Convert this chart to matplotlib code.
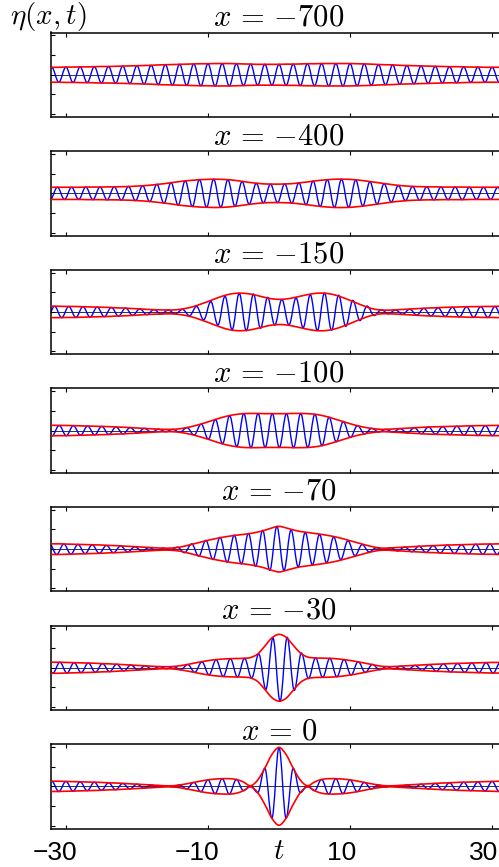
import numpy as np
import matplotlib
matplotlib.use('Agg')
import matplotlib.pyplot as plt
from matplotlib.path import Path
from matplotlib.patches import PathPatch
from matplotlib.transforms import ScaledTranslation

plt.rcParams['mathtext.fontset'] = 'cm'
plt.rcParams['font.family'] = ['Liberation Sans', 'DejaVu Sans']

# time grid (integer t) and the position of each panel
t = np.arange(-33, 34)
x_pos = [-700, -400, -150, -100, -70, -30, 0]

# envelope |eta| at t = -33 .. 33
env_700 = [0.37, 0.38, 0.38, 0.39, 0.39, 0.40, 0.40, 0.41, 0.42, 0.42,
           0.43, 0.44, 0.45, 0.46, 0.47, 0.48, 0.50, 0.51, 0.52, 0.53,
           0.54, 0.55, 0.56, 0.56, 0.57, 0.57, 0.57, 0.56, 0.55, 0.54,
           0.53, 0.53, 0.53, 0.53, 0.54, 0.54, 0.55, 0.56, 0.56, 0.57,
           0.57, 0.57, 0.57, 0.57, 0.56, 0.55, 0.54, 0.52, 0.51, 0.50,
           0.48, 0.47, 0.46, 0.45, 0.44, 0.43, 0.42, 0.41, 0.41, 0.40,
           0.39, 0.39, 0.38, 0.38, 0.38, 0.37, 0.37]
env_400 = [0.31, 0.31, 0.31, 0.31, 0.31, 0.31, 0.32, 0.32, 0.32, 0.33,
           0.33, 0.34, 0.35, 0.37, 0.39, 0.42, 0.46, 0.50, 0.55, 0.60,
           0.64, 0.67, 0.70, 0.71, 0.72, 0.71, 0.69, 0.65, 0.60, 0.55,
           0.51, 0.48, 0.47, 0.47, 0.48, 0.50, 0.54, 0.58, 0.63, 0.67,
           0.70, 0.72, 0.72, 0.71, 0.68, 0.64, 0.59, 0.54, 0.49, 0.44,
           0.40, 0.37, 0.35, 0.34, 0.33, 0.33, 0.32, 0.32, 0.32, 0.32,
           0.31, 0.31, 0.31, 0.31, 0.31, 0.31, 0.31]
env_150 = [0.29, 0.29, 0.29, 0.28, 0.28, 0.27, 0.26, 0.25, 0.24, 0.23,
           0.21, 0.20, 0.18, 0.16, 0.14, 0.12, 0.11, 0.10, 0.10, 0.13,
           0.19, 0.28, 0.40, 0.53, 0.67, 0.80, 0.90, 0.95, 0.95, 0.91,
           0.83, 0.74, 0.67, 0.64, 0.66, 0.72, 0.80, 0.88, 0.94, 0.96,
           0.93, 0.85, 0.73, 0.59, 0.44, 0.30, 0.18, 0.11, 0.09, 0.10,
           0.12, 0.14, 0.16, 0.18, 0.20, 0.21, 0.23, 0.24, 0.25, 0.26,
           0.27, 0.27, 0.28, 0.28, 0.29, 0.29, 0.29]
env_100 = [0.27, 0.27, 0.26, 0.26, 0.25, 0.24, 0.23, 0.22, 0.21, 0.20,
           0.18, 0.17, 0.15, 0.13, 0.11, 0.09, 0.07, 0.06, 0.06, 0.09,
           0.15, 0.23, 0.33, 0.44, 0.56, 0.67, 0.76, 0.82, 0.86, 0.87,
           0.87, 0.86, 0.86, 0.86, 0.86, 0.87, 0.87, 0.86, 0.83, 0.77,
           0.68, 0.57, 0.46, 0.35, 0.25, 0.17, 0.11, 0.07, 0.06, 0.08,
           0.10, 0.12, 0.14, 0.16, 0.18, 0.19, 0.20, 0.21, 0.22, 0.23,
           0.24, 0.25, 0.25, 0.26, 0.26, 0.27, 0.27]
env_70 = [0.27, 0.27, 0.27, 0.26, 0.25, 0.24, 0.23, 0.22, 0.21, 0.19,
          0.18, 0.16, 0.14, 0.12, 0.10, 0.08, 0.06, 0.05, 0.06, 0.10,
          0.18, 0.27, 0.36, 0.45, 0.53, 0.60, 0.66, 0.71, 0.75, 0.80,
          0.87, 0.96, 1.08, 1.16, 1.08, 0.98, 0.90, 0.85, 0.80, 0.75,
          0.69, 0.62, 0.53, 0.43, 0.33, 0.23, 0.14, 0.07, 0.05, 0.07,
          0.09, 0.11, 0.13, 0.15, 0.17, 0.18, 0.20, 0.21, 0.22, 0.23,
          0.24, 0.25, 0.26, 0.26, 0.27, 0.27, 0.27]
env_30 = [0.28, 0.28, 0.28, 0.27, 0.26, 0.25, 0.24, 0.23, 0.21, 0.20,
          0.18, 0.16, 0.14, 0.12, 0.10, 0.08, 0.06, 0.05, 0.06, 0.10,
          0.16, 0.23, 0.30, 0.36, 0.41, 0.44, 0.46, 0.47, 0.48, 0.52,
          0.70, 1.10, 1.52, 1.70, 1.55, 1.15, 0.75, 0.55, 0.50, 0.49,
          0.48, 0.46, 0.42, 0.37, 0.31, 0.24, 0.17, 0.10, 0.06, 0.06,
          0.08, 0.10, 0.12, 0.14, 0.16, 0.18, 0.19, 0.21, 0.22, 0.23,
          0.24, 0.25, 0.26, 0.27, 0.27, 0.28, 0.28]
env_0 = [0.26, 0.26, 0.26, 0.25, 0.24, 0.23, 0.22, 0.21, 0.20, 0.18,
         0.17, 0.15, 0.13, 0.11, 0.09, 0.07, 0.05, 0.03, 0.03, 0.07,
         0.13, 0.20, 0.27, 0.33, 0.37, 0.39, 0.39, 0.35, 0.22, 0.03,
         0.32, 0.92, 1.62, 1.98, 1.62, 0.92, 0.32, 0.03, 0.22, 0.35,
         0.39, 0.39, 0.37, 0.33, 0.27, 0.20, 0.13, 0.07, 0.03, 0.03,
         0.05, 0.07, 0.09, 0.11, 0.13, 0.15, 0.17, 0.18, 0.20, 0.21,
         0.22, 0.23, 0.24, 0.25, 0.26, 0.26, 0.26]
envelopes = [env_700, env_400, env_150, env_100, env_70, env_30, env_0]

# carrier: sign of the extreme sitting at even t, and how far the extremes are shifted
crest_sign = [1, -1, 1, -1, 1, -1, 1]
crest_shift = [0.0, -0.2, 0.4, 0.05, -0.3, 0.15, 0.0]

xticks = [-30, -10, 10, 30]


def carrier_path(t, env, sign, shift):
    # half-cosine pieces (cubic bezier) from one extreme of the wave to the next
    tk = t + shift
    yk = np.where(t % 2 == 0, sign * env, -sign * env)
    a = 1 - 2 / np.pi
    verts = [(tk[0], yk[0])]
    codes = [Path.MOVETO]
    for i in range(len(tk) - 1):
        h = tk[i + 1] - tk[i]
        verts += [(tk[i] + a * h, yk[i]), (tk[i + 1] - a * h, yk[i + 1]), (tk[i + 1], yk[i + 1])]
        codes += [Path.CURVE4] * 3
    return Path(verts, codes)


def smooth_path(x, y):
    # catmull-rom style bezier through the sampled envelope points
    p = np.column_stack([x, y]).astype(float)
    verts = [tuple(p[0])]
    codes = [Path.MOVETO]
    n = len(p)
    for i in range(n - 1):
        p0 = p[max(i - 1, 0)]
        p3 = p[min(i + 2, n - 1)]
        c1 = p[i] + (p[i + 1] - p0) / 6
        c2 = p[i + 1] - (p3 - p[i]) / 6
        verts += [tuple(c1), tuple(c2), tuple(p[i + 1])]
        codes += [Path.CURVE4] * 3
    return Path(verts, codes)


W, H = 499, 867
fig = plt.figure(figsize=(W / 100, H / 100), dpi=100)

for i, (xp, env) in enumerate(zip(x_pos, envelopes)):
    top = 32.5 + i * 118.6
    ax = fig.add_axes([51 / W, 1 - (top + 84.5) / H, 456 / W, 84.5 / H])
    env = np.asarray(env)

    ax.plot(t, np.zeros_like(t), color='0.2', lw=0.7, zorder=1)
    ax.add_patch(PathPatch(carrier_path(t, env, crest_sign[i], crest_shift[i]),
                           fill=False, edgecolor='#0000ff', lw=1.0, zorder=2))
    for s in (1, -1):
        ax.add_patch(PathPatch(smooth_path(t, s * env), fill=False,
                               edgecolor='#ff0000', lw=1.2, zorder=3))

    ax.set_xlim(-32.1, 32.1)
    ax.set_ylim(-2.15, 2.15)
    ax.set_xticks(xticks)
    ax.set_yticks([-2, -1, 0, 1, 2])
    ax.set_yticklabels([])
    ax.tick_params(direction='in', length=3, width=0.8, top=True, right=True,
                   labelsize=19, pad=9, labelbottom=(i == len(x_pos) - 1))
    for sp in ax.spines.values():
        sp.set_linewidth(1.1)
    title = r'$x\,=\,0$' if xp == 0 else r'$x\,=\,{-%d}$' % abs(xp)
    ax.set_title(title, fontsize=22, pad=3)

    if i == len(x_pos) - 1:
        ax.set_xticklabels(['\u221230', '\u221210', '10', '30'])
        for lab, v in zip(ax.get_xticklabels(), xticks):
            dx = -11 if v < 0 else -8
            lab.set_transform(lab.get_transform() + ScaledTranslation(dx / 100, 0, fig.dpi_scale_trans))
        ax.set_xlabel(r'$t$', fontsize=21)
        ax.xaxis.set_label_coords(0.5, -0.1)

fig.text(10 / W, 1 - 24 / H, r'$\eta(x,t)$', fontsize=21, ha='left', va='baseline')

fig.savefig('out.png', dpi=100)
